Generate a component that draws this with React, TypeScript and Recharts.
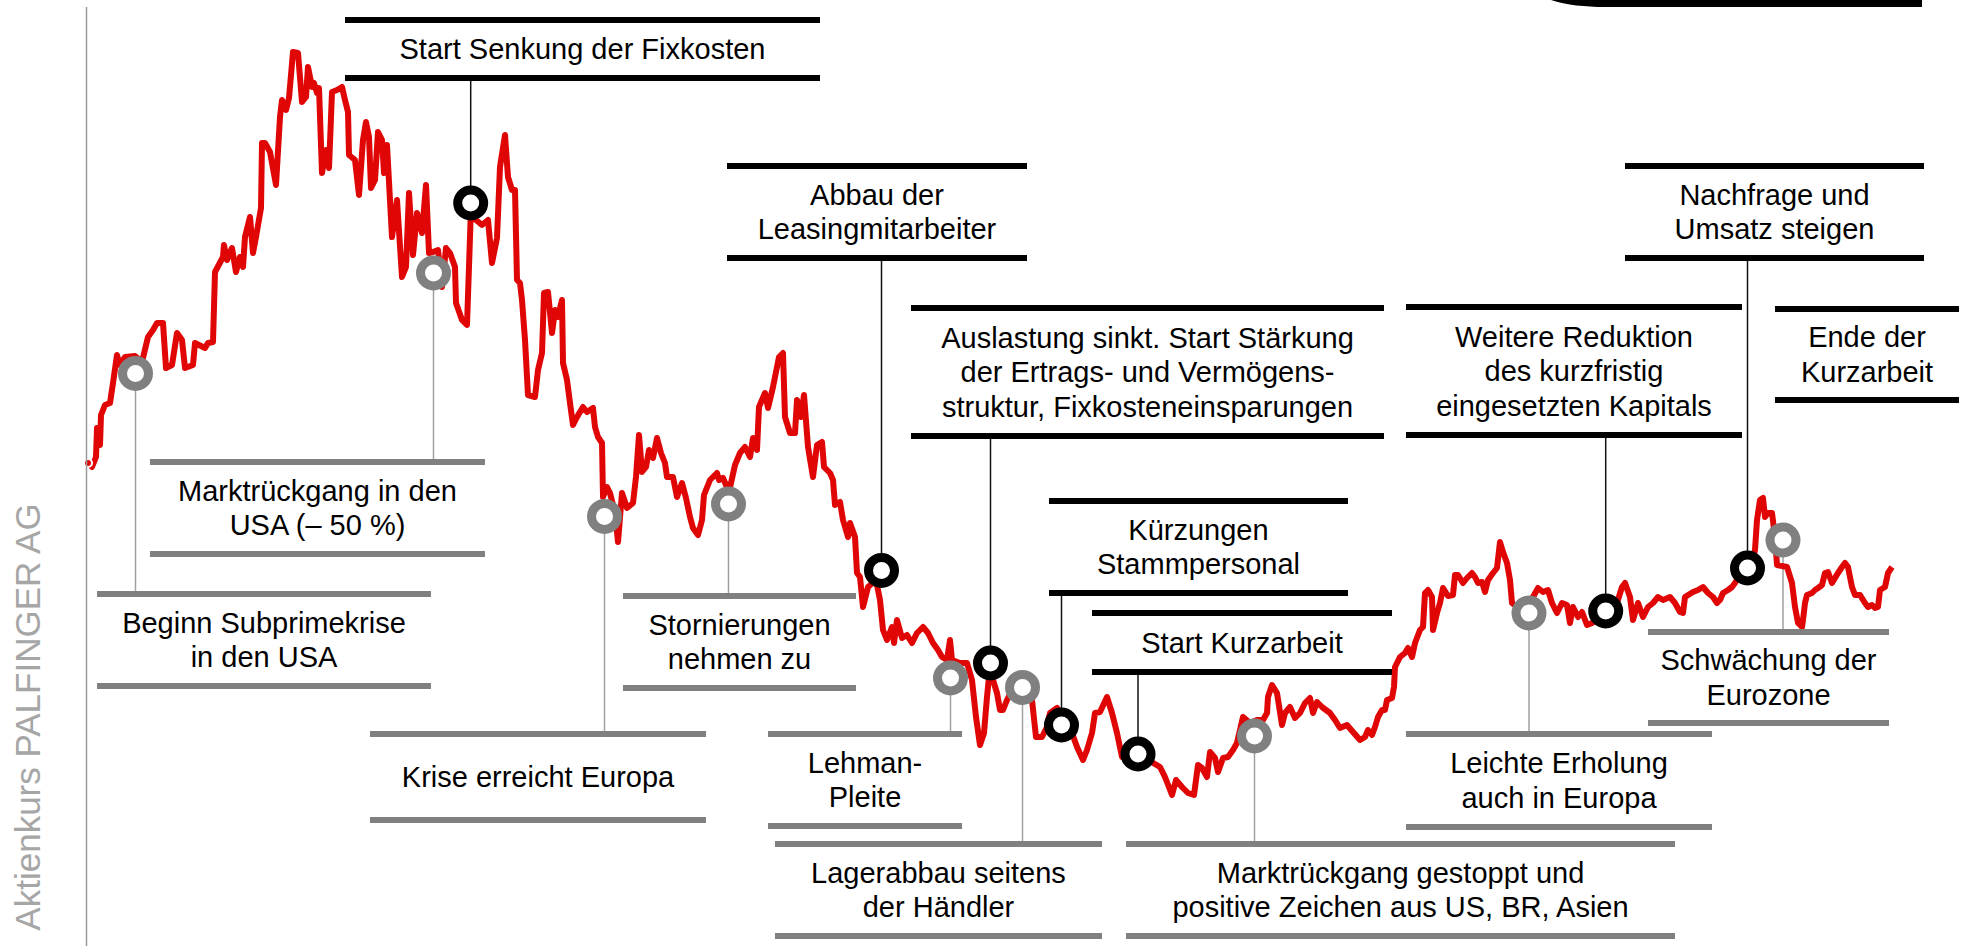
import React from 'react';
import { LineChart, Line, XAxis, YAxis, ReferenceDot, ReferenceLine } from 'recharts';

const W = 1966;
const H = 946;
const Y_MIN = 2.7;
const Y_MAX = 50;

// Handelstage ab Jan. 2007 und Aktienkurs (EUR)
const handelstag = [
  0, 2, 4, 4.5, 6, 6.5, 8.5, 11, 12.5, 14.5,
  16, 18.5, 23.5, 27, 30, 32.5, 34.5, 37.5, 39, 42,
  44.5, 47, 48.5, 52.5, 53.5, 58.5, 60, 62.5, 63.5, 67.5,
  68, 69.5, 72, 74, 76, 77.5, 78.5, 81, 82.5, 84,
  86.5, 87, 88.5, 91, 94, 96, 97, 99, 100.5, 102.5,
  105, 107, 109, 110, 112, 113, 114.5, 115.5, 117, 119,
  120.5, 122, 124.5, 127, 128.5, 130, 130.5, 133.5, 135.5, 137.5,
  139, 140.5, 141.5, 143.5, 145, 147, 148, 149.5, 152, 154.5,
  157, 159, 160.5, 162.5, 164.5, 167, 169, 170.5, 172.5, 175,
  177, 179, 181, 183.5, 184, 187, 189.5, 191.5, 194, 197,
  200, 202, 204.5, 206, 208.5, 210, 212, 213.5, 214.5, 216,
  217, 218.5, 220, 223.5, 225, 227, 228, 230, 232, 233.5,
  235, 237, 237.5, 239.5, 241, 242.5, 244.5, 247.5, 249.5, 252.5,
  253.5, 255, 257, 257.5, 259.5, 261, 263.5, 265, 267, 269.5,
  272.5, 274, 275.5, 277, 279, 280.5, 282.5, 284.5, 286.5, 288.5,
  289.5, 292.5, 294.5, 297, 299, 301, 302.5, 305, 307, 308,
  311, 314.5, 315.5, 317.5, 320.5, 323.5, 326, 328.5, 331, 332.5,
  334.5, 335.5, 338.5, 340, 342.5, 345.5, 347.5, 348.5, 351, 353.5,
  354.5, 356.5, 358, 360, 362.5, 364.5, 367, 368, 371, 372.5,
  373.5, 376, 377.5, 380, 381, 383.5, 384.5, 386, 387.5, 390,
  394, 396, 397.5, 399.5, 402, 403, 404.5, 407, 409.5, 412,
  414.5, 417.5, 420, 422.5, 425, 427, 429.5, 431, 432, 436,
  439.5, 442, 444, 446, 448, 449.5, 451, 452.5, 454.5, 456,
  457.5, 459.5, 462, 465, 469, 472, 474, 477, 479.5, 481,
  484.5, 488, 492, 494.5, 497.5, 499.5, 502, 503.5, 506, 509.5,
  512, 514.5, 517, 521, 527.5, 536, 538.5, 542, 544, 547,
  550, 553, 555, 557, 559.5, 561, 563.5, 565, 567.5, 570,
  572.5, 574.5, 577.5, 581, 584.5, 587.5, 589.5, 590, 592, 594.5,
  597, 598.5, 601, 603.5, 606, 608.5, 611, 612.5, 614.5, 617,
  621, 623.5, 626, 629.5, 632.5, 636, 638.5, 640, 642, 643.5,
  645, 647, 648.5, 649.5, 652, 653, 653.5, 656, 658.5, 660,
  662, 663.5, 666, 667.5, 668.5, 670, 672, 672.5, 674.5, 676,
  677.5, 680, 682.5, 683.5, 685, 687.5, 689.5, 692, 693.5, 695,
  697, 698.5, 700, 702.5, 704.5, 706, 707.5, 709.5, 711, 712,
  714.5, 718.5, 722.5, 725, 727.5, 730, 732, 734.5, 737, 739.5,
  741, 742.5, 745, 747, 749.5, 752, 756, 761, 764.5, 767,
  768.5, 771, 772.5, 775, 777.5, 780, 782.5, 785, 787.5, 791,
  793.5, 796, 797.5, 798.5, 802.5, 805, 807.5, 810, 812.5, 814.5,
  816, 817.5, 820, 822, 823.5, 826, 830, 832, 833.5, 834.5,
  836, 837.5, 838.5, 840, 842, 843.5, 844.5, 849.5, 852, 853.5,
  855, 857, 857.5, 858.5, 859.5, 862, 863.5, 865, 867, 868.5,
  870, 872, 873.5, 875, 877, 878.5, 880, 882, 883.5, 886,
  888.5, 890, 892, 893.5, 895, 896, 898.5, 900, 902,
];

const kurs = [
  26.85, 26.65, 27.15, 28.6, 27.75, 29.25, 29.75, 29.85, 30.85, 32.25,
  31.75, 32.15, 32.2, 31.9, 33.15, 33.5, 33.85, 33.85, 31.6, 31.75,
  33.35, 33, 31.6, 31.75, 32.85, 32.6, 32.85, 32.9, 36.4, 37.15,
  37.75, 37, 37.6, 36.4, 37.15, 36.65, 38.15, 39.15, 37.35, 38.15,
  39.6, 42.85, 42.85, 42.4, 40.75, 44.15, 45, 44.5, 45.1, 47.4,
  47.35, 44.9, 45.15, 46.65, 45.65, 45.85, 45.35, 45.6, 41.35, 42.5,
  41.6, 45.4, 45.5, 45.65, 45, 44.4, 42.25, 42, 40.25, 43,
  43.9, 43.15, 40.6, 41, 43.4, 43, 41.35, 42.75, 38.15, 40,
  36.15, 36.65, 40.35, 37.25, 39.35, 38.35, 40.75, 37.35, 37.4, 37.5,
  35.65, 37.6, 37.35, 36.65, 34.85, 34, 33.75, 39.6, 39, 38.75,
  39, 36.85, 38.1, 41.65, 43.25, 41.15, 40.5, 40.5, 36, 35.85,
  35, 33, 30.25, 30.15, 31.5, 32.35, 35.35, 35.4, 33.35, 34.5,
  34.15, 35, 31.85, 31, 29.85, 28.75, 29.15, 29.65, 29.4, 29.6,
  28.65, 28.15, 27.85, 25.15, 25.65, 25.35, 24.35, 22.9, 25.35, 24.6,
  24.85, 26.15, 28.25, 26.4, 26.65, 27.5, 27.1, 28.1, 27.35, 26.85,
  26.15, 26.15, 25.15, 25.85, 25.1, 24.15, 23.6, 23.25, 24, 25.25,
  26, 26.35, 26, 26.1, 25.4, 26.75, 27.35, 27.65, 27.15, 28.1,
  27.5, 29.65, 30.35, 29.6, 30.65, 32.15, 32.35, 29.15, 28.35, 28.35,
  30, 29.15, 30.25, 27.65, 26.15, 27.75, 27.9, 26.65, 26.35, 26,
  24.75, 24.9, 24, 23.15, 23.85, 23.15, 21.35, 21.15, 19.65, 20.65,
  21, 20, 18.5, 18, 18.65, 17.85, 19, 18.1, 18.25, 17.85,
  18.35, 18.65, 18.35, 17.85, 17.5, 17.15, 17, 18, 17, 16.85,
  16.85, 16, 14.15, 12.75, 13.35, 15.15, 16.65, 16, 15.35, 14.5,
  14.5, 15, 15.5, 16, 15.5, 15, 13.15, 13.15, 13.65, 14.35,
  14.6, 14.1, 13.35, 12.65, 12, 12.5, 13.35, 14.35, 14.4, 15.15,
  14.35, 13.35, 12.15, 12.1, 12.15, 11.65, 11.15, 10.25, 11, 10.65,
  10.35, 10.25, 11.75, 11.6, 11.15, 12.4, 12.1, 11.4, 12.1, 12.15,
  12.5, 12.85, 14.15, 13.85, 14, 14, 14.35, 15.15, 15.75, 15.35,
  13.75, 14.35, 14.65, 14.1, 14.35, 14.85, 15.1, 14.35, 14.9, 14.65,
  14.35, 14, 13.6, 13.75, 13.4, 13, 13.15, 13.5, 13.25, 13.65,
  14.15, 14.5, 14.5, 15, 15.1, 15.65, 16.65, 17.15, 17.35, 17.6,
  17.15, 17.85, 18.5, 18.65, 20.35, 20.5, 20.15, 18.5, 19.35, 19.85,
  20.6, 20.2, 20.25, 21.25, 21.25, 20.85, 21.1, 21.35, 21.15, 20.85,
  20.9, 20.4, 21, 21.35, 21.6, 22.9, 22.4, 21.85, 21, 19.85,
  19.65, 19.75, 20.15, 20.6, 20.4, 20.5, 19.85, 19.35, 19.85, 19.75,
  18.85, 19.65, 19.15, 19.4, 18.75, 18.85, 19.15, 19.6, 19.85, 20.65,
  20.85, 20.15, 19, 19.85, 19.15, 19.65, 19.85, 20.15, 20, 20.15,
  19.85, 19.4, 19.35, 20.15, 20.4, 20.5, 20.65, 20.35, 20.15, 19.85,
  20, 20.35, 20.5, 20.65, 20.85, 21.25, 21.6, 21.9, 22.5, 24,
  25, 25.1, 24.15, 24.35, 24.35, 23.15, 21.75, 21.65, 20.85, 19.65,
  18.85, 18.65, 19, 19.85, 20.25, 20.35, 20.5, 20.6, 20.75, 21.35,
  21.4, 20.85, 21.1, 21.35, 21.65, 21.85, 21.65, 20.65, 20.25, 20.25,
  19.85, 19.65, 19.75, 19.6, 19.65, 20.5, 20.65, 21.35, 21.65,
];

// Ereignisse: Text, Zeitpunkt, Kurs, Art (intern = schwarz oben, extern = grau unten)
const ereignisTexte: string[][] = [
  ['Beginn Subprimekrise', 'in den USA'],
  ['Marktrückgang in den', 'USA (– 50 %)'],
  ['Start Senkung der Fixkosten'],
  ['Krise erreicht Europa'],
  ['Stornierungen', 'nehmen zu'],
  ['Abbau der', 'Leasingmitarbeiter'],
  ['Lehman-', 'Pleite'],
  ['Auslastung sinkt. Start Stärkung', 'der Ertrags- und Vermögens-', 'struktur, Fixkosteneinsparungen'],
  ['Lagerabbau seitens', 'der Händler'],
  ['Kürzungen', 'Stammpersonal'],
  ['Start Kurzarbeit'],
  ['Marktrückgang gestoppt und', 'positive Zeichen aus US, BR, Asien'],
  ['Leichte Erholung', 'auch in Europa'],
  ['Weitere Reduktion', 'des kurzfristig', 'eingesetzten Kapitals'],
  ['Nachfrage und', 'Umsatz steigen'],
  ['Schwächung der', 'Eurozone'],
  ['Ende der', 'Kurzarbeit'],
];
const ereignisTag: (number | null)[] = [
  23.75, 172.75, 191.35, 258.25, 320.25, 396.75, 431.25, 451.25, 467.25,
  486.75, 525, 583.25, 720.5, 758.85, 829.75, 847.5, null,
];
const ereignisKurs: (number | null)[] = [
  31.33, 36.35, 39.85, 24.18, 24.8, 21.48, 16.1, 16.85, 15.63,
  13.75, 12.3, 13.2, 19.35, 19.45, 21.6, 23, null,
];
const ereignisArt = [
  'extern', 'extern', 'intern', 'extern', 'extern', 'intern', 'extern', 'intern', 'extern',
  'intern', 'intern', 'extern', 'extern', 'intern', 'intern', 'extern', 'intern',
];

// Lage der Textkästen (Pixel): links, rechts, obere Linie, untere Linie
const kaesten = [
  [97, 431, 594, 686],
  [150, 485, 462, 554],
  [345, 820, 20, 78],
  [370, 706, 734, 820],
  [623, 856, 596, 688],
  [727, 1027, 166, 258],
  [768, 962, 734, 826],
  [911, 1384, 308, 436],
  [775, 1102, 844, 936],
  [1049, 1348, 501, 593],
  [1092, 1392, 613, 672],
  [1126, 1675, 844, 936],
  [1406, 1712, 734, 827],
  [1406, 1742, 307, 435],
  [1625, 1924, 166, 258],
  [1648, 1889, 632, 723],
  [1775, 1959, 309, 400],
];

const data = handelstag.map((t, i) => ({ t, kurs: kurs[i] }));

const pxToKurs = (y: number) => Y_MAX - (y / H) * (Y_MAX - Y_MIN);

const BLACK = '#000000';
const GREY = '#808080';
const FONT = '"Liberation Sans", Arial, sans-serif';

export default function App() {
  return (
    <div style={{ position: 'absolute', left: 0, top: 0, width: W, height: H, background: '#fff', overflow: 'hidden' }}>
      <LineChart width={W} height={H} data={data} margin={{ top: 0, right: 0, bottom: 0, left: 0 }}>
        <XAxis type="number" dataKey="t" domain={[-44, 939]} hide allowDataOverflow />
        <YAxis type="number" domain={[Y_MIN, Y_MAX]} hide allowDataOverflow />
        {ereignisTag.map((t, i) => {
          if (t === null) return null;
          const k = kaesten[i];
          const intern = ereignisArt[i] === 'intern';
          const end = intern ? pxToKurs(k[3] + 3) : pxToKurs(k[2] - 3);
          return (
            <ReferenceLine
              key={`l-${i}`}
              segment={[{ x: t, y: ereignisKurs[i] as number }, { x: t, y: end }]}
              stroke={intern ? '#111' : '#a0a0a0'}
              strokeWidth={1.5}
              ifOverflow="visible"
            />
          );
        })}
        <Line
          type="linear"
          dataKey="kurs"
          stroke="#e00606"
          strokeWidth={6}
          strokeLinejoin="round"
          dot={false}
          isAnimationActive={false}
        />
        {ereignisTag.map((t, i) => {
          if (t === null) return null;
          const intern = ereignisArt[i] === 'intern';
          return (
            <ReferenceDot
              key={`d-${i}`}
              x={t}
              y={ereignisKurs[i] as number}
              r={13}
              fill="#fff"
              stroke={intern ? BLACK : GREY}
              strokeWidth={9}
              ifOverflow="visible"
            />
          );
        })}
      </LineChart>
      <svg width={W} height={H} style={{ position: 'absolute', left: 0, top: 0, pointerEvents: 'none' }}>
        <line x1={86.5} y1={7} x2={86.5} y2={H} stroke="#9a9a9a" strokeWidth={1.5} />
        <text
          x={27}
          y={717}
          transform="rotate(-90 27 717)"
          textAnchor="middle"
          dominantBaseline="central"
          fontFamily={FONT}
          fontSize={35}
          fill="#a6a6a6"
        >
          Aktienkurs PALFINGER AG
        </text>
        <path d="M1551,0 C1566,5 1586,7 1604,7 L1922,7 L1922,0 Z" fill={BLACK} />
        {kaesten.map((k, i) => {
          const col = ereignisArt[i] === 'intern' ? BLACK : GREY;
          const cx = (k[0] + k[1]) / 2;
          const cy = (k[2] + k[3]) / 2;
          const lines = ereignisTexte[i];
          return (
            <g key={`k-${i}`}>
              <rect x={k[0]} y={k[2] - 3} width={k[1] - k[0]} height={6} fill={col} />
              <rect x={k[0]} y={k[3] - 3} width={k[1] - k[0]} height={6} fill={col} />
              {lines.map((s, j) => (
                <text
                  key={j}
                  x={cx}
                  y={cy + (j - (lines.length - 1) / 2) * 34.5 + 10}
                  textAnchor="middle"
                  fontFamily={FONT}
                  fontSize={29}
                  fill="#000"
                >
                  {s}
                </text>
              ))}
            </g>
          );
        })}
      </svg>
    </div>
  );
}
